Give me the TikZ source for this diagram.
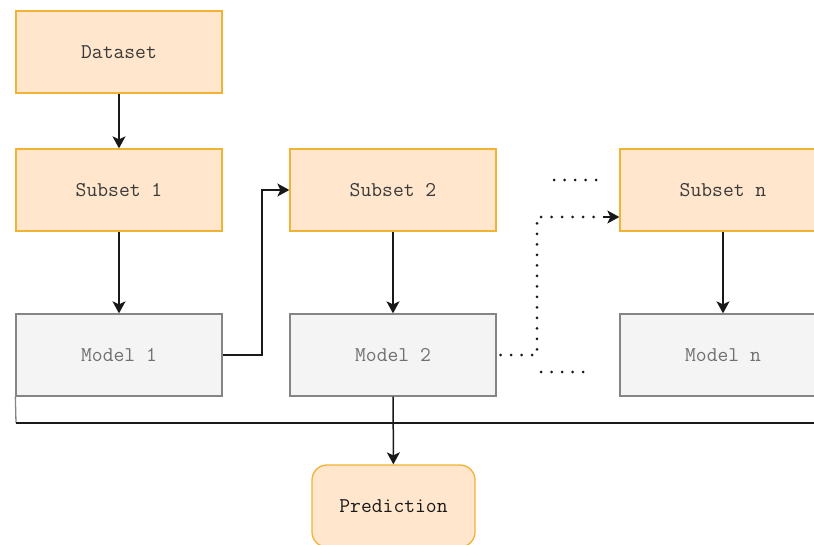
\documentclass[tikz,border=0pt]{standalone}
\usetikzlibrary{arrows.meta,positioning}
\definecolor{subfill}{HTML}{FFE6CC}
\definecolor{subdraw}{HTML}{F2B233}
\definecolor{modfill}{HTML}{F4F4F4}
\definecolor{moddraw}{HTML}{858585}
\definecolor{subtext}{HTML}{3A3A3A}
\definecolor{modtext}{HTML}{707070}
\tikzset{
  boxfont/.style={font=\ttfamily\fontsize{21}{23}\selectfont},
  subbox/.style={draw=subdraw, fill=subfill, line width=1.3pt, minimum width=206pt,
    minimum height=82pt, inner sep=0pt, text=subtext, boxfont},
  modbox/.style={draw=moddraw, fill=modfill, line width=1.3pt, minimum width=206pt,
    minimum height=82pt, inner sep=0pt, text=modtext, boxfont},
  predbox/.style={subbox, rounded corners=15pt, minimum width=163pt, text=black!90},
  tip/.style={-{Stealth[length=12pt,width=13pt,inset=3pt]}},
  link/.style={line width=1.5pt, draw=black!90, tip},
  dotlink/.style={line width=3pt, draw=black!90, line cap=round,
    dash pattern=on 0pt off 10.5pt},
}
\begin{document}
\begin{tikzpicture}[x=1pt,y=-1pt]
\useasboundingbox (0,0) rectangle (814,545);
\clip (0,0) rectangle (814,545);

% pipeline boxes
\node[subbox] (data) at (119,52) {Dataset};
\node[subbox] (sub1) at (119,190) {Subset 1};
\node[subbox] (sub2) at (393,190) {Subset 2};
\node[subbox] (subn) at (723,190) {Subset n};
\node[modbox] (mod1) at (119,355) {Model 1};
\node[modbox] (mod2) at (393,355) {Model 2};
\node[modbox] (modn) at (723,355) {Model n};
\node[predbox] (pred) at (393.5,506) {Prediction};

% aggregation line under the models
\coordinate (aggL) at (16,423);
\coordinate (aggR) at (830,423);
\draw[line width=1.3pt, draw=moddraw] (mod1.south west) -- (aggL);
\draw[line width=1.5pt, draw=black!90] (aggL) -- (aggR);

% solid connectors
\draw[link] (data) -- (sub1);
\draw[link] (sub1) -- (mod1);
\draw[link] (sub2) -- (mod2);
\draw[link] (subn) -- (modn);
\draw[link] (mod1.east) -| (262,190) -- (sub2.west);
\draw[link] (mod2) -- (pred);

% dotted hand-off to the last subset
\coordinate (bendA) at (537,355);
\coordinate (bendB) at (537,217);
\draw[dotlink] (mod2.east) ++(4,0) -- (bendA) -- (bendB) -- ++(66,0);
\draw[link] (603,217) -- (subn.west |- bendB);

% ellipsis marks
\draw[dotlink] (554,180) -- (604,180);
\draw[dotlink] (541,372) -- (590,372);
\end{tikzpicture}
\end{document}
